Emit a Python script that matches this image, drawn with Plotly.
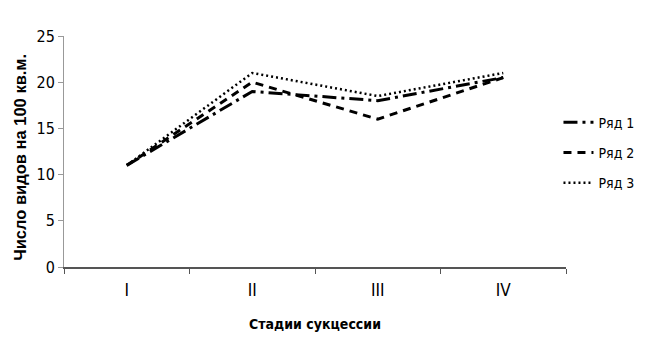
import plotly.graph_objects as go

categories = ["I", "II", "III", "IV"]
row1 = [11, 19, 18, 20.5]
row2 = [11, 20, 16, 20.5]
row3 = [11, 21, 18.5, 21]
series_names = ["Ряд 1", "Ряд 2", "Ряд 3"]
y_title = "Число видов на 100 кв.м."
x_title = "Стадии сукцессии"

NARROW = "DejaVu Sans Condensed, Liberation Sans Narrow, Arial Narrow, sans-serif"

fig = go.Figure()
styles = [
    dict(color="black", width=3, dash="14px,5px,3px,5px"),
    dict(color="black", width=3, dash="8px,6px"),
    dict(color="black", width=2.5, dash="2px,3px"),
]
for i, (name, vals, st) in enumerate(zip(series_names, [row1, row2, row3], styles)):
    fig.add_trace(go.Scatter(x=categories, y=vals, mode="lines", name=name,
                             line=st, legendgroup=f"g{i}"))

fig.add_annotation(
    text=f"<b>{y_title}</b>", xref="paper", yref="paper",
    x=-0.088, y=0.476, xanchor="center", yanchor="middle",
    textangle=-90, showarrow=False,
    font=dict(size=16.5, family="Liberation Sans, Arial", color="black"),
)

fig.update_layout(
    width=649, height=354,
    margin=dict(l=56, r=91, t=28, b=95, autoexpand=False),
    paper_bgcolor="white", plot_bgcolor="white",
    font=dict(family=NARROW, size=14, color="black"),
    legend=dict(x=0.985, y=0.495, xanchor="left", yanchor="middle",
                font=dict(size=14, family=NARROW), tracegroupgap=9,
                bgcolor="rgba(0,0,0,0)"),
    xaxis=dict(
        type="category", range=[-0.5, 3.5], automargin=False,
        showline=True, linecolor="#555", linewidth=1.5,
        ticks="outside", tickson="boundaries", ticklen=5, tickcolor="#555",
        showgrid=False, zeroline=False,
        ticklabelstandoff=7,
        tickfont=dict(size=17, family=NARROW),
        title=dict(text=f"<b>{x_title}</b>", font=dict(size=14, family=NARROW), standoff=20),
    ),
    yaxis=dict(
        range=[0, 25], tickvals=[0, 5, 10, 15, 20, 25], automargin=False,
        showline=True, linecolor="#999", linewidth=1,
        ticks="outside", ticklen=5, tickcolor="#999",
        showgrid=False, zeroline=False,
        tickfont=dict(size=16, family=NARROW),
    ),
)

fig.write_html("out.html")
